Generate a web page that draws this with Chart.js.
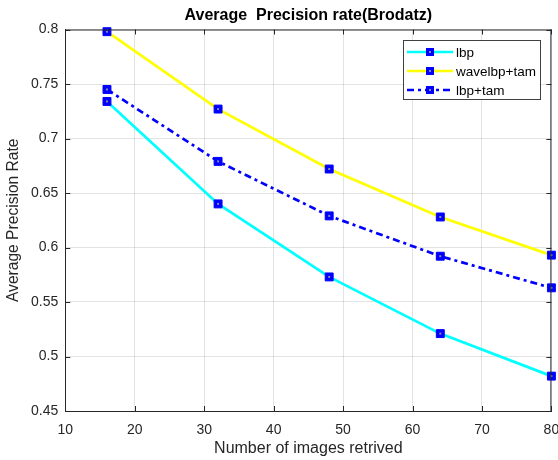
<!DOCTYPE html>
<html>
<head>
<meta charset="utf-8">
<title>Average Precision rate(Brodatz)</title>
<script src="https://cdn.jsdelivr.net/npm/chart.js@4.4.1/dist/chart.umd.min.js"></script>
<style>
    html, body { margin: 0; padding: 0; background: #ffffff; }
    #wrap { width: 558px; height: 460px; overflow: hidden; }
</style>
</head>
<body>
<div id="wrap"><canvas id="precisionChart" width="558" height="460"></canvas></div>
<script>
'use strict';

// values
const imagesRetrieved = [16, 32, 48, 64, 80];
const lbpValues = [0.734, 0.640, 0.573, 0.521, 0.482];
const waveLbpTamValues = [0.798, 0.727, 0.672, 0.628, 0.593];
const lbpTamValues = [0.745, 0.679, 0.629, 0.592, 0.563];

const seriesNames = ['lbp', 'wavelbp+tam', 'lbp+tam'];
const xTicks = [10, 20, 30, 40, 50, 60, 70, 80];
const yTicks = [0.45, 0.5, 0.55, 0.6, 0.65, 0.7, 0.75, 0.8];
const chartTitle = 'Average  Precision rate(Brodatz)';

const axisColor = '#262626';
const gridColor = 'rgba(38, 38, 38, 0.13)';
const fontFamily = '"Liberation Sans", Arial, Helvetica, sans-serif';
const blueDash = [7, 4, 3, 4];

function toPoints(values) {
    return values.map((v, i) => ({ x: imagesRetrieved[i], y: v }));
}

function makeDataset(label, values, color, dash) {
    return {
        label: label,
        data: toPoints(values),
        borderColor: color,
        borderWidth: 2.7,
        borderDash: dash || [],
        backgroundColor: '#0000ff',
        pointStyle: 'rect',
        pointRadius: 5.6,
        pointHoverRadius: 5.6,
        pointBackgroundColor: '#0000ff',
        pointBorderColor: '#0000ff',
        pointBorderWidth: 1,
        tension: 0,
        fill: false,
        clip: false
    };
}

// grey centre dot MATLAB draws in the filled squares
function drawMarkerCentre(ctx, x, y) {
    ctx.fillStyle = '#8a8a9a';
    ctx.fillRect(x - 1, y - 1, 2, 2);
}

const frameAndLegend = {
    id: 'frameAndLegend',
    afterDatasetsDraw(chart) {
        const ctx = chart.ctx;
        chart.data.datasets.forEach((ds, i) => {
            chart.getDatasetMeta(i).data.forEach(pt => drawMarkerCentre(ctx, pt.x, pt.y));
        });
    },
    afterDraw(chart) {
        const ctx = chart.ctx;
        const area = chart.chartArea;
        const xs = chart.scales.x;
        const ys = chart.scales.y;
        const tickLen = 5;

        ctx.save();

        // title centred over the axes
        ctx.fillStyle = '#000000';
        ctx.font = 'bold 16px ' + fontFamily;
        ctx.textAlign = 'center';
        ctx.textBaseline = 'middle';
        ctx.fillText(chartTitle, (area.left + area.right) / 2, 16);

        ctx.strokeStyle = axisColor;
        ctx.lineWidth = 1;
        ctx.beginPath();
        ctx.moveTo(area.left, area.top + 0.5);
        ctx.lineTo(area.right, area.top + 0.5);
        ctx.moveTo(area.right - 0.5, area.top);
        ctx.lineTo(area.right - 0.5, area.bottom);

        // inward ticks on all four sides
        xTicks.forEach(t => {
            const px = Math.round(xs.getPixelForValue(t)) + 0.5;
            ctx.moveTo(px, area.bottom);
            ctx.lineTo(px, area.bottom - tickLen);
            ctx.moveTo(px, area.top);
            ctx.lineTo(px, area.top + tickLen);
        });
        yTicks.forEach(t => {
            const py = Math.round(ys.getPixelForValue(t)) + 0.5;
            ctx.moveTo(area.left, py);
            ctx.lineTo(area.left + tickLen, py);
            ctx.moveTo(area.right, py);
            ctx.lineTo(area.right - tickLen, py);
        });
        ctx.stroke();

        // legend box
        const box = { x: 403.5, y: 40.5, w: 137, h: 59 };
        ctx.fillStyle = '#ffffff';
        ctx.fillRect(box.x, box.y, box.w, box.h);
        ctx.strokeStyle = '#404040';
        ctx.lineWidth = 1;
        ctx.strokeRect(box.x, box.y, box.w, box.h);

        const rowY = [52, 71, 90];
        chart.data.datasets.forEach((ds, i) => {
            const y = rowY[i];
            ctx.save();
            ctx.strokeStyle = ds.borderColor;
            ctx.lineWidth = ds.borderWidth;
            ctx.setLineDash(ds.borderDash);
            ctx.beginPath();
            ctx.moveTo(407, y);
            ctx.lineTo(453, y);
            ctx.stroke();
            ctx.restore();

            const s = 8;
            ctx.fillStyle = '#0000ff';
            ctx.fillRect(430 - s / 2, y - s / 2, s, s);
            drawMarkerCentre(ctx, 430, y);

            ctx.fillStyle = '#000000';
            ctx.font = '13.5px ' + fontFamily;
            ctx.textBaseline = 'middle';
            ctx.textAlign = 'left';
            ctx.fillText(seriesNames[i], 456, y + 1);
        });
        ctx.restore();
    }
};

const ctx = document.getElementById('precisionChart').getContext('2d');

new Chart(ctx, {
    type: 'line',
    data: {
        datasets: [
            makeDataset(seriesNames[0], lbpValues, '#00ffff'),
            makeDataset(seriesNames[1], waveLbpTamValues, '#ffff00'),
            makeDataset(seriesNames[2], lbpTamValues, '#0000ff', blueDash)
        ]
    },
    options: {
        responsive: false,
        animation: false,
        layout: {
            padding: { left: 0, right: 6.2, top: 29.5, bottom: 0 }
        },
        plugins: {
            legend: { display: false },
            tooltip: { enabled: false },
            title: { display: false }
        },
        scales: {
            x: {
                type: 'linear',
                min: 10,
                max: 80,
                afterBuildTicks: scale => {
                    scale.ticks = xTicks.map(v => ({ value: v }));
                },
                afterFit: scale => {
                    scale.height = 49;
                    scale.paddingRight = 0;
                    scale.paddingLeft = 0;
                },
                grid: { color: gridColor, drawTicks: false },
                border: { display: true, color: axisColor, width: 1 },
                ticks: {
                    color: axisColor,
                    padding: 11,
                    maxRotation: 0,
                    font: { family: fontFamily, size: 14 },
                    callback: v => String(v)
                },
                title: {
                    display: true,
                    text: 'Number of images retrived',
                    color: axisColor,
                    font: { family: fontFamily, size: 16 },
                    padding: { top: 0, bottom: 1.5 }
                }
            },
            y: {
                type: 'linear',
                min: 0.45,
                max: 0.8,
                afterBuildTicks: scale => {
                    scale.ticks = yTicks.map(v => ({ value: v }));
                },
                afterFit: scale => {
                    scale.width = 65.3;
                    scale.paddingTop = 0;
                    scale.paddingBottom = 0;
                },
                grid: { color: gridColor, drawTicks: false },
                border: { display: true, color: axisColor, width: 1 },
                ticks: {
                    color: axisColor,
                    padding: 7,
                    font: { family: fontFamily, size: 14 },
                    callback: v => String(Math.round(v * 100) / 100)
                },
                title: {
                    display: true,
                    text: 'Average Precision Rate',
                    color: axisColor,
                    font: { family: fontFamily, size: 15.6 },
                    padding: { top: 4, bottom: 0 }
                }
            }
        }
    },
    plugins: [frameAndLegend]
});
</script>
</body>
</html>
